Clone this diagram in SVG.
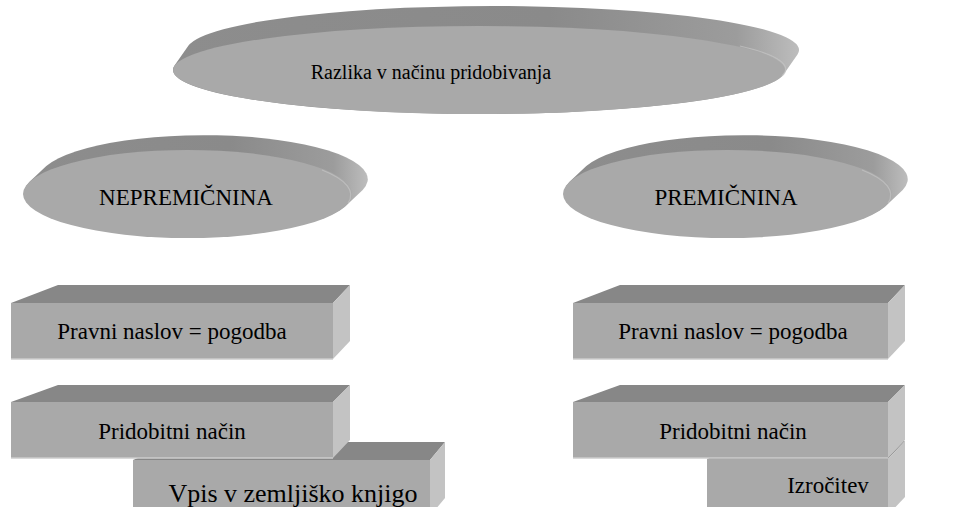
<svg xmlns="http://www.w3.org/2000/svg" width="957" height="507" viewBox="0 0 957 507">
  <defs>
    <linearGradient id="rimSide" x1="0" y1="0" x2="1" y2="0">
      <stop offset="0" stop-color="#8d8d8d"/>
      <stop offset="0.6" stop-color="#8a8a8a"/>
      <stop offset="0.9" stop-color="#9c9c9c"/>
      <stop offset="1" stop-color="#bdbdbd"/>
    </linearGradient>
    <style>
      .face { fill: #a9a9a9; }
      .top { fill: #878787; }
      .side { fill: #c3c3c3; }
      .rim { fill: url(#rimSide); }
      .edge { fill: none; stroke: #cdcdcd; stroke-width: 1.5; }
      .glint { fill: none; stroke: #c4c4c4; stroke-width: 1.2; stroke-opacity: 0.7; }
      .lbl { font-family: "Liberation Serif", "Times New Roman", serif; font-size: 23px; fill: #000; text-anchor: middle; }
    </style>
  </defs>

  <rect width="957" height="507" fill="#ffffff"/>

  <!-- top disc -->
  <g id="razlika">
    <path class="rim" d="M174.5,65.6 L188.5,45.6 A306,44 0 0 1 797.5,54.4 L783.5,74.4 A306,44 0 0 1 174.5,65.6 Z"/>
    <ellipse class="face" cx="479" cy="70" rx="306" ry="44"/>
    <path class="glint" d="M740,46 A306,44 0 0 1 782,76"/>
    <text class="lbl" x="431" y="79" style="font-size:20px">Razlika v načinu pridobivanja</text>
  </g>

  <!-- left disc -->
  <g id="nepremicnina">
    <path class="rim" d="M29.3,182 L46.3,166 A164.5,44 0 0 1 362.7,190 L345.7,206 A164.5,44 0 0 1 29.3,182 Z"/>
    <ellipse class="face" cx="187.5" cy="194" rx="164.5" ry="44"/>
    <path class="glint" d="M322,170 A164.5,44 0 0 1 348,203"/>
    <text class="lbl" x="186" y="205">NEPREMIČNINA</text>
  </g>

  <!-- right disc -->
  <g id="premicnina">
    <path class="rim" d="M569.3,182 L586.3,166 A164.5,44 0 0 1 902.7,190 L885.7,206 A164.5,44 0 0 1 569.3,182 Z"/>
    <ellipse class="face" cx="727.5" cy="194" rx="164.5" ry="44"/>
    <path class="glint" d="M862,170 A164.5,44 0 0 1 888,203"/>
    <text class="lbl" x="726" y="205">PREMIČNINA</text>
  </g>

  <!-- left column blocks -->
  <g id="pravni-naslov-l">
    <polygon class="top" points="11,303 58,285 350,285 333,303"/>
    <polygon class="side" points="333,303 350,285 350,341 333,359"/>
    <rect class="face" x="11" y="303" width="322" height="56"/>
    <line class="edge" x1="11" y1="359" x2="333" y2="359"/>
    <text class="lbl" x="172" y="339">Pravni naslov = pogodba</text>
  </g>

  <g id="vpis">
    <polygon class="top" points="133,460 178,442 445,442 430,460"/>
    <polygon class="side" points="430,460 445,442 445,498 430,516"/>
    <rect class="face" x="133" y="460" width="297" height="56"/>
    <text class="lbl" x="293" y="502" style="font-size:26px">Vpis v zemljiško knjigo</text>
  </g>

  <g id="pridobitni-nacin-l">
    <polygon class="top" points="11,402 58,385 350,385 333,402"/>
    <polygon class="side" points="333,402 350,385 350,440 333,458"/>
    <rect class="face" x="11" y="402" width="322" height="56"/>
    <line class="edge" x1="11" y1="458" x2="333" y2="458"/>
    <text class="lbl" x="172" y="439">Pridobitni način</text>
  </g>

  <!-- right column blocks -->
  <g id="pravni-naslov-r">
    <polygon class="top" points="573,303 620,285 905,285 888,303"/>
    <polygon class="side" points="888,303 905,285 905,341 888,359"/>
    <rect class="face" x="573" y="303" width="315" height="56"/>
    <line class="edge" x1="573" y1="359" x2="888" y2="359"/>
    <text class="lbl" x="733" y="339">Pravni naslov = pogodba</text>
  </g>

  <g id="izrocitev">
    <polygon class="top" points="707,459 752,441 905,441 888,459"/>
    <polygon class="side" points="888,459 905,441 905,497 888,515"/>
    <rect class="face" x="707" y="459" width="181" height="56"/>
    <text class="lbl" x="828" y="493">Izročitev</text>
  </g>

  <g id="pridobitni-nacin-r">
    <polygon class="top" points="573,402 620,385 905,385 888,402"/>
    <polygon class="side" points="888,402 905,385 905,440 888,458"/>
    <rect class="face" x="573" y="402" width="315" height="56"/>
    <line class="edge" x1="573" y1="458" x2="888" y2="458"/>
    <text class="lbl" x="733" y="439">Pridobitni način</text>
  </g>
</svg>
